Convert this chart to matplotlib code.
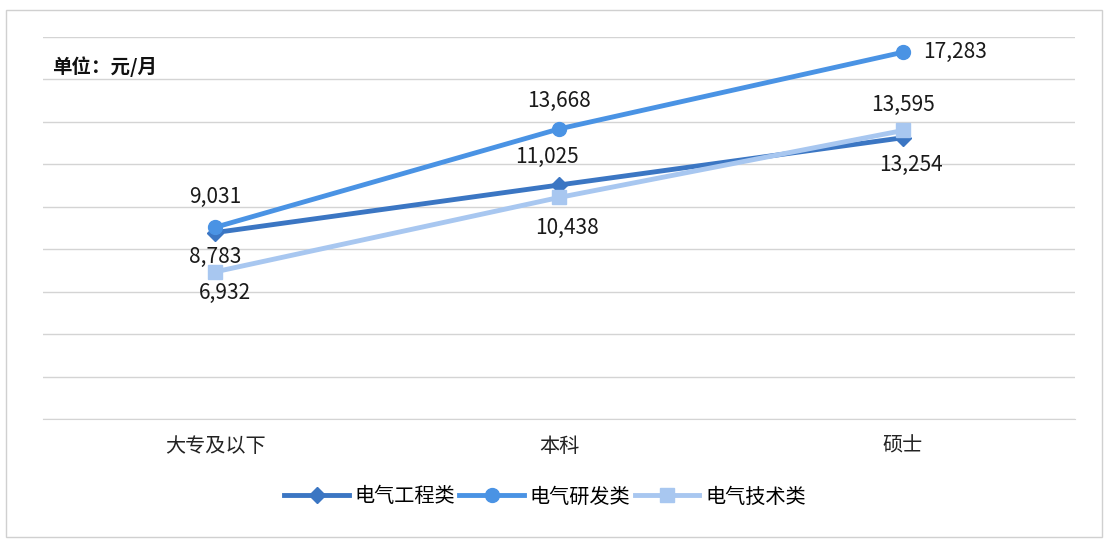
import matplotlib.pyplot as plt
from matplotlib.patches import Rectangle

plt.rcParams['font.family'] = ['Noto Sans CJK SC', 'DejaVu Sans']

categories = ['大专及以下', '本科', '硕士']
engineering = [8783, 11025, 13254]
research = [9031, 13668, 17283]
technical = [6932, 10438, 13595]
series_names = ['电气工程类', '电气研发类', '电气技术类']

colors = ['#3b76c3', '#4a93e4', '#a8c7f0']
markers = ['D', 'o', 's']
# label offsets in pixels (dx, dy) for each point
offsets = [
    [(0, -24), (-12, 28), (8, -27)],
    [(0, 30), (0, 28), (52, 0)],
    [(10, -21), (8, -30), (0, 26)],
]

fig = plt.figure(figsize=(11.14, 5.5), dpi=100)
fig.add_artist(Rectangle((6 / 1114, 1 - 537 / 550), 1096 / 1114, 527 / 550,
                         transform=fig.transFigure, fill=False,
                         edgecolor='#d0d0d0', linewidth=1))
ax = fig.add_axes([43 / 1114, 1 - 419 / 550, 1032 / 1114, 382 / 550])

x = range(len(categories))
all_series = [engineering, research, technical]
for vals, name, c, m, offs in zip(all_series, series_names, colors, markers, offsets):
    ms = 8 if m == 'D' else 10
    ax.plot(x, vals, color=c, linewidth=3.5, marker=m, markersize=ms, label=name, zorder=3)
    for xi, v, (dx, dy) in zip(x, vals, offs):
        ax.annotate(f'{v:,}', (xi, v), xytext=(dx, dy), textcoords='offset pixels',
                    ha='center', va='center', fontsize=15, color='#1a1a1a', zorder=4)

ax.set_xlim(-0.5, 2.5)
ax.set_ylim(0, 18000)
ax.set_yticks(range(0, 18001, 2000))
ax.yaxis.grid(True, color='#d4d4d4', linewidth=1)
ax.set_axisbelow(True)
ax.tick_params(axis='y', left=False, labelleft=False)
ax.tick_params(axis='x', length=0, labelsize=14.5, labelcolor='#222222', pad=12)
ax.set_xticks(list(x))
ax.set_xticklabels(categories)
for s in ['top', 'left', 'right']:
    ax.spines[s].set_visible(False)
ax.spines['bottom'].set_color('#d4d4d4')

fig.text(52 / 1114, 1 - 67 / 550, '单位：元/月', fontsize=14, fontweight='bold',
         color='#111111', va='center', ha='left')

fig.legend(loc='center', bbox_to_anchor=(545 / 1114, 1 - 497 / 550), ncol=3,
           frameon=False, fontsize=14.5, handlelength=3.2, columnspacing=0.2,
           handletextpad=0.3)

fig.savefig('out.png', dpi=100)
